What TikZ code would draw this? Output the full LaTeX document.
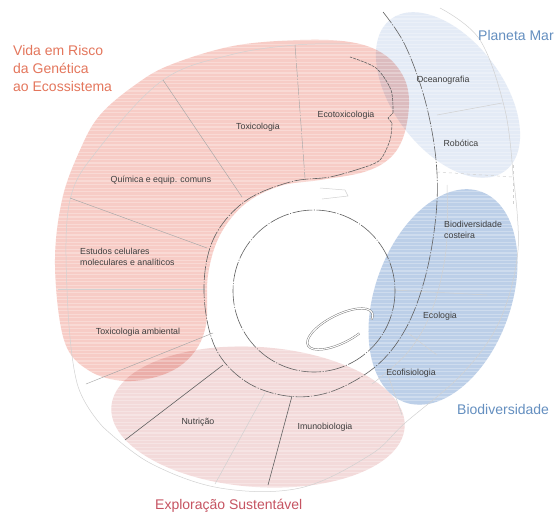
\documentclass[tikz,border=0pt]{standalone}
\usepackage{fontspec}
\setmainfont{Liberation Sans}
\definecolor{redfill}{RGB}{247,204,198}
\definecolor{explfill}{RGB}{243,218,218}
\definecolor{pmfill}{RGB}{228,235,246}
\definecolor{biofill}{RGB}{188,207,232}
\definecolor{vidacol}{RGB}{228,118,92}
\definecolor{bluecol}{RGB}{100,143,192}
\definecolor{explcol}{RGB}{198,84,98}
\definecolor{labelgray}{RGB}{62,62,62}
\tikzset{
  area/.style={blend mode=multiply},
  dk/.style={draw=black!62, line width=0.6pt},
  md/.style={draw=black!35, line width=0.45pt},
  ft/.style={draw=black!18, line width=0.5pt},
  dashdot/.style={dash pattern=on 14pt off 1.5pt on 1.2pt off 1.5pt},
  lbl/.style={font=\fontsize{8.8}{11}\selectfont, text=labelgray, inner sep=0pt},
  ttl/.style={font=\fontsize{14}{18}\selectfont, inner sep=0pt},
  hookline/.style={draw=black!55, line width=0.45pt, double=white, double distance=1.1pt}
}
\begin{document}
\begin{tikzpicture}[x=1pt,y=-1pt]
\useasboundingbox (0,0) rectangle (556,512);
\fill[white] (0,0) rectangle (556,512);

% coloured areas
\fill[explfill, area, rotate around={-4:(258,417)}] (258,417) ellipse[x radius=147, y radius=70];
\fill[pmfill, area, rotate around={-53:(448,95)}] (448,95) ellipse[x radius=95, y radius=55];
\fill[biofill, area, rotate around={70:(443,297)}] (443,297) ellipse[x radius=112, y radius=68];
\fill[redfill, area] plot[smooth cycle, tension=0.6] coordinates {
  (55,265) (62,200) (80,150) (100,115) (135,85) (170,65) (233,46) (300,40)
  (350,42) (382,53) (402,74) (409,100) (404,135) (390,158) (364,172)
  (320,180) (280,186) (245,204) (220,235) (208,275) (206,325) (192,355)
  (165,374) (125,381) (88,370) (64,340)};

% scan-line texture
\foreach \yy in {1,4.6,...,512} \draw[white, opacity=0.28, line width=1.1pt] (0,\yy) -- (556,\yy);

% faint construction curves
\draw[ft] plot[smooth, tension=0.6] coordinates {(103,427) (77,383) (67,290) (70,200) (100,147) (163,80) (230,55) (295,45) (350,44)};
\draw[ft] plot[smooth, tension=0.6] coordinates {(440,8) (480,40) (505,110) (513,175)};
\draw[ft] plot[smooth, tension=0.6] coordinates {(513,175) (518,250) (500,320) (463,373) (405,423) (370,455) (300,488) (220,488) (150,463) (103,427)};
\draw[ft] plot[smooth, tension=0.6] coordinates {(447,185) (446,250) (432,310) (408,352) (372,384)};
\draw[ft, dashed] (437,172) -- (513,177);
\draw[ft, dashed] (513,165) -- (513,205);
\draw[ft] (437,115) -- (502,103);
\draw[ft] (393,290) -- (487,295);
\draw[ft] (408,333) -- (437,355);
\draw[ft] (388,375) -- (402,415);
\draw[ft] (265,393) -- (215,484);
\draw[ft] (58,289) -- (205,289);
\draw[ft] (320,188) -- (345,190) -- (348,196) -- (322,199);

% section dividers
\draw[md] (163,80) -- (242,197);
\draw[md, dashdot] (295,45) -- (305,178);
\draw[md] (70,198) -- (207,248);
\draw[md] (213,333) -- (86,384);
\draw[dk] (223,365) -- (125,440);
\draw[dk] (292,396) -- (268,485);

% spiral and rings
\draw[dk, dashdot] plot[smooth, tension=0.6] coordinates {
  (383,12) (405,45) (425,100) (436,160) (436,215) (425,278) (405,330)
  (375,367) (330,392) (287,396) (245,381) (215,347) (204,292) (213,240)
  (244,202) (290,182) (330,177) (362,168)};
\draw[dk, dash pattern=on 3pt off 1pt] plot[smooth, tension=0.5] coordinates {
  (362,168) (380,160) (390,140) (392,123)} -- (388,118) -- (393,113)
  plot[smooth, tension=0.5] coordinates {(393,113) (391,90) (376,68) (350,57)};
\draw[dk, dash pattern=on 20pt off 1.5pt on 1pt off 1.5pt] (314,291) circle[radius=81];
\begin{scope}[shift={(340,329)}, rotate=27]
  \draw[hookline] (65:36 and 14) arc[start angle=65, end angle=385, x radius=36, y radius=14];
\end{scope}

% titles
\node[ttl, text=vidacol, anchor=north west, align=left] (vida) at (13,45) {Vida em Risco\\da Genética\\ao Ecossistema};
\node[ttl, text=bluecol, anchor=base west] (mar) at (478,40) {Planeta Mar};
\node[ttl, text=bluecol, anchor=base west] (bio) at (457,414) {Biodiversidade};
\node[ttl, text=explcol, anchor=base west] (expl) at (155,509) {Exploração Sustentável};

% section labels
\node[lbl] (toxi) at (258,127) {Toxicologia};
\node[lbl] (ecotox) at (346,115) {Ecotoxicologia};
\node[lbl] (quim) at (161,180) {Química e equip. comuns};
\node[lbl, anchor=north west, align=left] (estudos) at (80,248) {Estudos celulares\\moleculares e analíticos};
\node[lbl] (toxamb) at (138,332) {Toxicologia ambiental};
\node[lbl] (ocean) at (443,80) {Oceanografia};
\node[lbl] (robo) at (461,143) {Robótica};
\node[lbl, anchor=north west, align=left] (biocost) at (444,221) {Biodiversidade\\costeira};
\node[lbl] (ecol) at (440,316) {Ecologia};
\node[lbl] (ecofis) at (411,373) {Ecofisiologia};
\node[lbl] (nutri) at (198,422) {Nutrição};
\node[lbl] (imuno) at (325,427) {Imunobiologia};
\end{tikzpicture}
\end{document}
